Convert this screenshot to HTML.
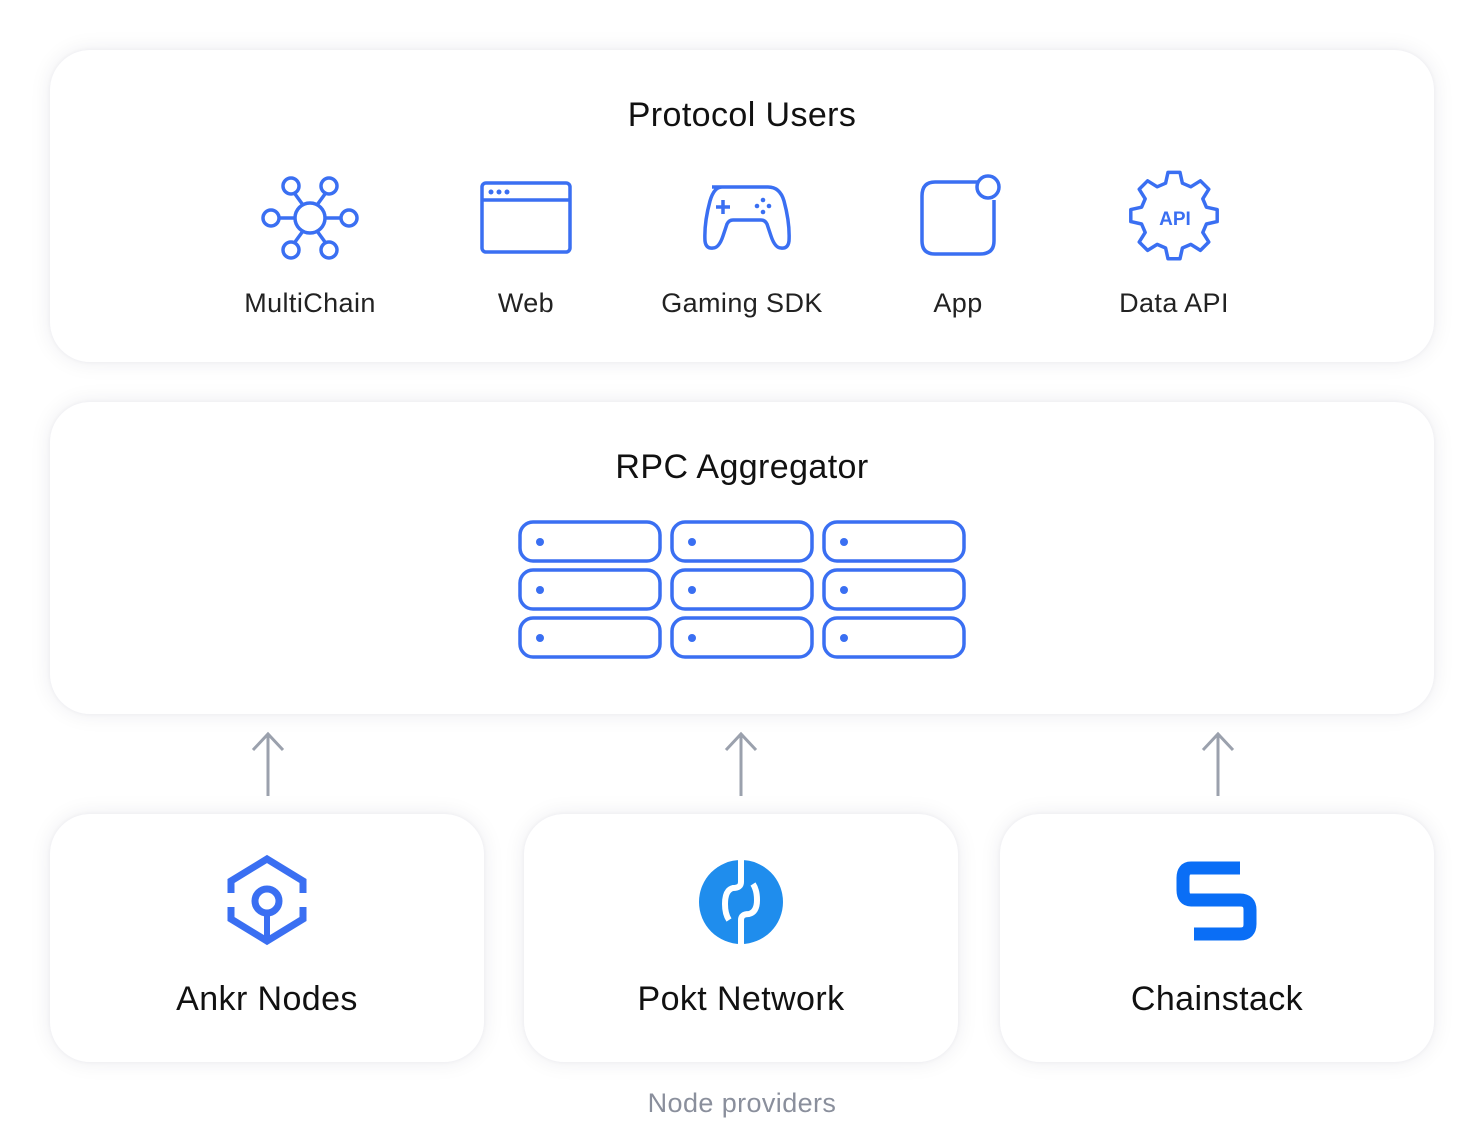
<!DOCTYPE html>
<html><head><style>
body{margin:0;width:1484px;height:1144px;background:#fff;position:relative;font-family:"Liberation Sans",sans-serif;overflow:hidden}
.box{position:absolute;background:#fff;border-radius:40px;box-shadow:0 0 22px rgba(30,30,60,0.08),0 0 4px rgba(30,30,60,0.05)}
.t{position:absolute;text-align:center;color:#111;letter-spacing:0.4px}
</style></head><body>
<div class="box" style="left:50px;top:50px;width:1384px;height:312px"></div>
<div class="box" style="left:50px;top:402px;width:1384px;height:312px"></div>
<div class="box" style="left:50px;top:814px;width:434px;height:248px"></div>
<div class="box" style="left:524px;top:814px;width:434px;height:248px"></div>
<div class="box" style="left:1000px;top:814px;width:434px;height:248px"></div>

<div class="t" style="left:0;width:1484px;top:96px;font-size:34px">Protocol Users</div>
<div class="t" style="left:0;width:1484px;top:448px;font-size:34px">RPC Aggregator</div>
<div class="t" style="left:190px;width:240px;top:288px;font-size:27px;color:#222">MultiChain</div>
<div class="t" style="left:406px;width:240px;top:288px;font-size:27px;color:#222">Web</div>
<div class="t" style="left:622px;width:240px;top:288px;font-size:27px;color:#222">Gaming SDK</div>
<div class="t" style="left:838px;width:240px;top:288px;font-size:27px;color:#222">App</div>
<div class="t" style="left:1054px;width:240px;top:288px;font-size:27px;color:#222">Data API</div>
<div class="t" style="left:50px;width:434px;top:980px;font-size:34px">Ankr Nodes</div>
<div class="t" style="left:524px;width:434px;top:980px;font-size:34px">Pokt Network</div>
<div class="t" style="left:1000px;width:434px;top:980px;font-size:34px">Chainstack</div>
<div class="t" style="left:0;width:1484px;top:1088px;font-size:27px;color:#8a8f9c">Node providers</div>

<svg width="1484" height="1144" style="position:absolute;left:0;top:0" fill="none" stroke="#3a6ff2" stroke-width="3.5">
<circle cx="310" cy="218" r="15"/>
<circle cx="291" cy="186" r="8"/><circle cx="329" cy="186" r="8"/>
<circle cx="291" cy="250" r="8"/><circle cx="329" cy="250" r="8"/>
<circle cx="271" cy="218" r="8"/><circle cx="349" cy="218" r="8"/>
<path d="M279 218h16M325 218h16M295 194l8 11M325 194l-8 11M295 242l8-11M325 242l-8-11"/>
<rect x="482" y="183" width="88" height="69" rx="4"/>
<path d="M482 200h88"/>
<g fill="#3a6ff2" stroke="none"><circle cx="491" cy="192" r="2.5"/><circle cx="499" cy="192" r="2.5"/><circle cx="507" cy="192" r="2.5"/></g>
<path d="M712 187h56q12 0 16 14q6 22 5 40q-1 8-8 7q-6 0-10-12l-4-12q-2-4-6-4h-28q-4 0-6 4l-4 12q-4 12-10 12q-7 1-8-7q-1-18 5-40q4-14 12-14z"/>
<path d="M716 207h14M723 200v14"/>
<g fill="#3a6ff2" stroke="none"><circle cx="763" cy="200" r="2.3"/><circle cx="757" cy="206" r="2.3"/><circle cx="769" cy="206" r="2.3"/><circle cx="763" cy="212" r="2.3"/></g>
<path d="M978 182h-43q-13 0-13 14v45q0 13 13 13h45q14 0 14-13v-41"/>
<circle cx="988" cy="187" r="11"/>
<g transform="translate(1174 218) scale(1.2) translate(-1174 -218)">
<path d="M1169 180h10l2 9 7 3 8-5 7 7-5 8 3 7 9 2v10l-9 2-3 7 5 8-7 7-8-5-7 3-2 9h-10l-2-9-7-3-8 5-7-7 5-8-3-7-9-2v-10l9-2 3-7-5-8 7-7 8 5 7-3z" stroke-linejoin="round" stroke-width="2.9"/>
</g>
<text x="1175" y="225" fill="#3a6ff2" stroke="none" font-family="Liberation Sans" font-weight="bold" font-size="19" text-anchor="middle">API</text>
<rect x="520" y="522" width="140" height="39" rx="13"/><rect x="672" y="522" width="140" height="39" rx="13"/><rect x="824" y="522" width="140" height="39" rx="13"/>
<rect x="520" y="570" width="140" height="39" rx="13"/><rect x="672" y="570" width="140" height="39" rx="13"/><rect x="824" y="570" width="140" height="39" rx="13"/>
<rect x="520" y="618" width="140" height="39" rx="13"/><rect x="672" y="618" width="140" height="39" rx="13"/><rect x="824" y="618" width="140" height="39" rx="13"/>
<g fill="#3a6ff2" stroke="none">
<circle cx="540" cy="542" r="4"/><circle cx="692" cy="542" r="4"/><circle cx="844" cy="542" r="4"/>
<circle cx="540" cy="590" r="4"/><circle cx="692" cy="590" r="4"/><circle cx="844" cy="590" r="4"/>
<circle cx="540" cy="638" r="4"/><circle cx="692" cy="638" r="4"/><circle cx="844" cy="638" r="4"/>
</g>
<g stroke="#9ba1ad" stroke-width="3">
<path d="M268 796v-62M253 750l15-16 15 16"/>
<path d="M741 796v-62M726 750l15-16 15 16"/>
<path d="M1218 796v-62M1203 750l15-16 15 16"/>
</g>
<path d="M231 893v-12l36-22 36 22v12M231 907v12l36 22 36-22v-12" stroke="#3a6ff2" stroke-width="7"/>
<circle cx="267" cy="901" r="12" stroke="#3a6ff2" stroke-width="7"/>
<path d="M267 913v28" stroke="#3a6ff2" stroke-width="6"/>
<circle cx="741" cy="902" r="42" fill="#1f8ded" stroke="none"/>
<path d="M741 858v24q0 6-8 6q-8 2-8 16q0 10 4 16M741 946v-26q0-6 8-6q8-2 8-14q0-10-4-16" stroke="#fff" stroke-width="6"/>
<path d="M1240 868h-49q-8 0-8 10v12q0 10 8 10h49q10 0 10 10v14q0 10-10 10h-46" stroke="#0a6ef6" stroke-width="13" stroke-linejoin="round"/>
</svg>
</body></html>
